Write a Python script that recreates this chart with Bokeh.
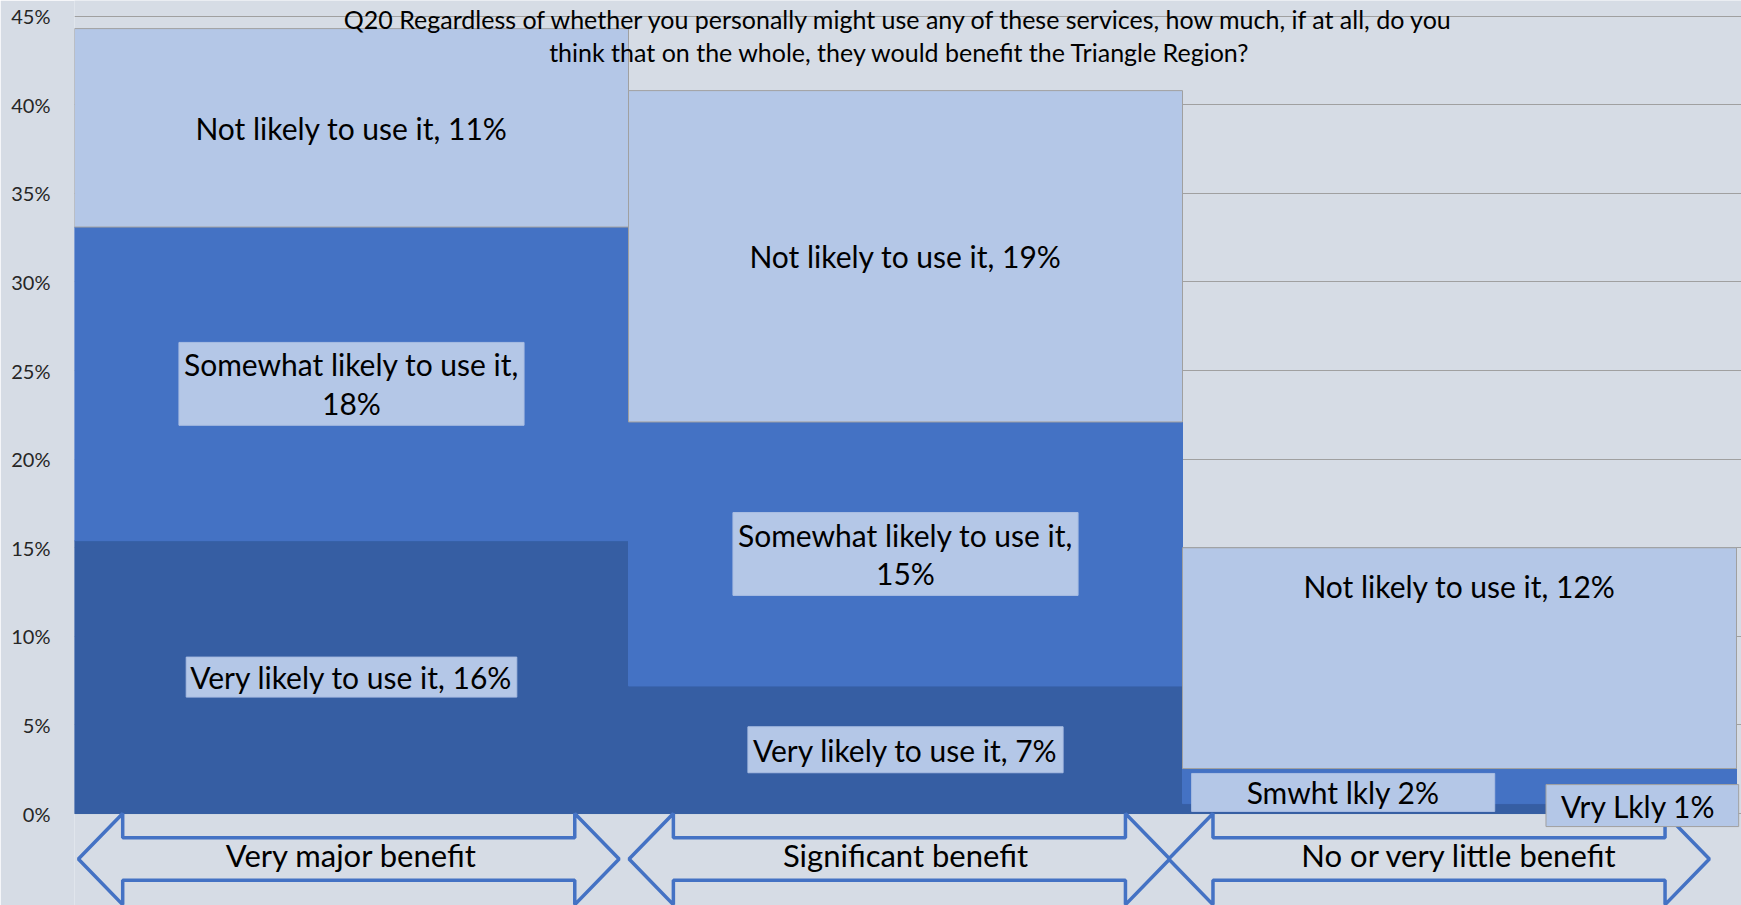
from bokeh.plotting import figure
from bokeh.models import ColumnDataSource, Label, FixedTicker, Range1d, PrintfTickFormatter
from bokeh.embed import file_html
from bokeh.resources import INLINE

# ---------------- data ----------------
categories = ["Very major benefit", "Significant benefit", "No or very little benefit"]
very_likely = [15.4, 7.2, 0.56]
somewhat_likely = [17.7, 14.9, 1.98]
not_likely = [11.2, 18.7, 12.46]

very_labels = ["Very likely to use it, 16%", "Very likely to use it, 7%", "Vry Lkly  1%"]
somewhat_labels = ["Somewhat likely to use it,\n18%", "Somewhat likely to use it,\n15%", "Smwht lkly 2%"]
not_labels = ["Not likely to use it, 11%", "Not likely to use it, 19%", "Not likely to use it, 12%"]

y_ticks = [0, 5, 10, 15, 20, 25, 30, 35, 40, 45]
title_text = ("Q20 Regardless of whether you personally might use any of these services, how much, if at all, do you\n"
              "think that on the whole, they would benefit the Triangle Region?")

# ---------------- style ----------------
BG = "#D6DCE5"
DARK = "#365EA3"
MED = "#4472C4"
LIGHT = "#B4C7E7"
GRID = "#A0A0A0"
FONT = "Lato"
LABEL_SIZE = "30px"

xs = list(range(len(categories)))
src = ColumnDataSource(dict(x=xs, very=very_likely, somewhat=somewhat_likely, notl=not_likely))

p = figure(width=1741, height=905, output_backend="svg", toolbar_location=None,
           x_range=Range1d(-0.5, 2.509), y_range=Range1d(-5.19, 45.886),
           x_axis_location=None, min_border_left=74, min_border_right=0,
           min_border_top=0, min_border_bottom=0)
p.background_fill_color = BG
p.border_fill_color = BG
p.outline_line_color = None

p.xgrid.visible = False
p.ygrid.ticker = FixedTicker(ticks=y_ticks)
p.ygrid.grid_line_color = GRID
p.ygrid.grid_line_width = 1

ax = p.yaxis[0]
ax.ticker = FixedTicker(ticks=y_ticks)
ax.formatter = PrintfTickFormatter(format="%d%%")
ax.axis_line_color = None
ax.major_tick_line_color = None
ax.minor_tick_line_color = None
ax.major_tick_out = 0
ax.major_label_standoff = 24
ax.major_label_text_font = FONT
ax.major_label_text_font_size = "20px"
ax.major_label_text_color = "#262626"

p.vbar_stack(["very", "somewhat", "notl"], x="x", width=1.0, source=src,
             fill_color=[DARK, MED, LIGHT], line_color=[DARK, MED, GRID], line_width=1)

# ---------------- segment labels ----------------
# per-bar placement tweaks for the small third bar (layout only)
not_dy = [0, 0, 4.1]
some_dx = [0, 0, -0.21]
some_dy = [0, 0, -0.36]
very_dx = [0, 0, 0.33]
very_dy = [0, 0, 0.17]
some_pad = [(5, 4), (5, 4), (55, 1)]
very_pad = [(4, 2), (5, 5), (15, 3)]
very_border = [None, None, GRID]

def add_label(x, y, text, boxed, pad=(4, 2), border=None):
    kw = dict(x=x, y=y, text=text, text_font=FONT, text_font_size=LABEL_SIZE,
              text_align="center", text_baseline="middle", text_color="black",
              text_line_height=1.08)
    if boxed:
        kw.update(background_fill_color=LIGHT, background_fill_alpha=1.0,
                  border_line_color=border if border else "#A9BDE2", border_line_width=1,
                  padding=pad)
    p.add_layout(Label(**kw))

for i in xs:
    v, s, n = very_likely[i], somewhat_likely[i], not_likely[i]
    add_label(i, v + s + n / 2 + not_dy[i], not_labels[i], False)
    add_label(i + some_dx[i], v + s / 2 + some_dy[i], somewhat_labels[i], True, some_pad[i])
    add_label(i + very_dx[i], v / 2 + very_dy[i], very_labels[i], True, very_pad[i], very_border[i])

# ---------------- category arrows ----------------
arrow_shift = [-0.005, -0.011, -0.037]
half_len, head_len = 0.488, 0.08
cy, head_h, body_h = -2.57, 2.57, 1.2
axs, ays = [], []
for i in xs:
    c = i + arrow_shift[i]
    l, r = c - half_len, c + half_len
    axs.append([l, l + head_len, l + head_len, r - head_len, r - head_len, r,
                r - head_len, r - head_len, l + head_len, l + head_len])
    ays.append([cy, cy + head_h, cy + body_h, cy + body_h, cy + head_h, cy,
                cy - head_h, cy - body_h, cy - body_h, cy - head_h])
p.patches(axs, ays, fill_alpha=0, line_color=MED, line_width=3.5)

for i in xs:
    p.add_layout(Label(x=i, y=cy + 0.22, text=categories[i], text_font=FONT,
                       text_font_size="31px", text_align="center",
                       text_baseline="middle", text_color="black"))

# ---------------- title ----------------
p.add_layout(Label(x=0.99, y=43.9, text=title_text, text_font=FONT,
                   text_font_size="25px", text_align="center", text_baseline="middle",
                   text_color="black", text_line_height=1.12))

open("out.html", "w").write(file_html(p, INLINE))
